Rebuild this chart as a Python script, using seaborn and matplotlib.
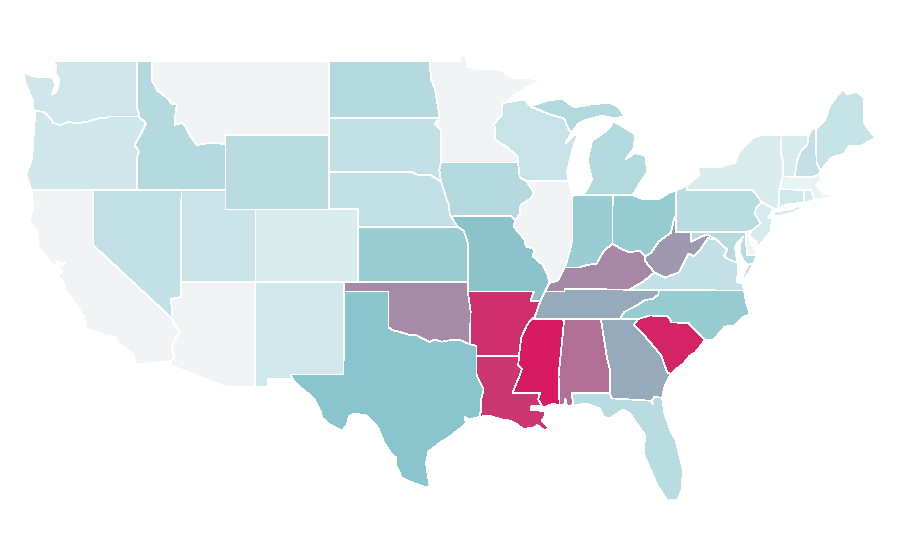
import numpy as np
import pandas as pd
import seaborn as sns
from matplotlib import pyplot as plt

# values, nan = no data (grey)
nan = float("nan")
states = ["WA", "OR", "CA", "NV", "ID", "MT", "WY", "UT", "AZ", "CO", "NM", "ND", "SD", "NE", "KS", "OK", "TX",
          "MN", "IA", "MO", "AR", "LA", "WI", "IL", "MI", "IN", "OH", "KY", "TN", "MS", "AL", "GA", "FL", "SC",
          "NC", "VA", "WV", "PA", "NY", "VT", "NH", "ME", "MA", "CT", "RI", "NJ", "DE", "MD"]
values = [14, 14, nan, 21, 28, nan, 26, 17, nan, 9, 13, 28, 20, 21, 42, 67, 50,
          nan, 28, 51, 94, 92, 18, nan, 29, 42, 43, 68, 58, 100, 75, 58, 26, 97,
          44, 21, 63, 25, 9, 9, 21, 19, 0, 13, 10, 10, nan, 27]

# shared borders, lon/lat
COLUMBIA = [(-124.05, 46.3), (-123.45, 46.27), (-123.2, 46.15), (-122.9, 45.9), (-122.75, 45.65), (-122.3, 45.55),
            (-121.7, 45.7), (-121.2, 45.65), (-120.5, 45.7), (-119.6, 45.92), (-119.0, 45.95), (-118.98, 46.0),
            (-116.92, 46.0)]
SNAKE = [(-116.92, 46.0), (-116.78, 45.85), (-116.54, 45.75), (-116.46, 45.6), (-116.68, 45.25), (-116.85, 44.98),
         (-117.2, 44.45), (-117.03, 44.25), (-116.93, 44.1), (-117.03, 43.83), (-117.03, 42.0)]
ID_MT = [(-116.05, 49), (-116.05, 48.0), (-115.7, 47.45), (-115.0, 47.0), (-114.7, 46.7), (-114.35, 46.65),
         (-114.45, 46.1), (-114.5, 45.55), (-114.0, 45.65), (-113.8, 45.5), (-113.45, 44.95), (-113.0, 44.45),
         (-112.3, 44.55), (-111.5, 44.55), (-111.05, 44.48)]
COLORADO_R = [(-114.63, 35.0), (-114.6, 34.85), (-114.15, 34.27), (-114.45, 34.0), (-114.7, 33.4), (-114.5, 33.0),
              (-114.72, 32.72)]
RED_R = [(-94.48, 33.64), (-95.2, 33.88), (-95.8, 33.86), (-96.4, 33.78), (-96.9, 33.9), (-97.2, 33.75),
         (-97.7, 33.95), (-98.1, 34.13), (-98.6, 34.15), (-99.2, 34.3), (-99.7, 34.4), (-100, 34.56)]
MO_NE = [(-96.45, 42.5), (-96.25, 42.0), (-96.1, 41.6), (-95.9, 41.2), (-95.85, 40.7), (-95.77, 40.58)]
MN_SD = [(-96.56, 45.94), (-96.85, 45.6), (-96.45, 45.3), (-96.45, 43.5)]
MN_ND = [(-97.23, 49), (-97.1, 48.0), (-96.85, 47.5), (-96.6, 46.3), (-96.56, 45.94)]
MN_WI = [(-92.29, 46.66), (-92.29, 46.1), (-92.85, 45.6), (-92.75, 45.3), (-92.8, 44.75), (-91.9, 44.3),
         (-91.25, 43.85), (-91.22, 43.5)]
IA_IL = [(-91.22, 43.5), (-91.1, 42.7), (-90.65, 42.5), (-90.15, 41.9), (-90.35, 41.55), (-91.05, 41.2),
         (-91.1, 40.7), (-91.42, 40.38)]
MO_IL = [(-91.42, 40.38), (-91.5, 40.0), (-90.75, 39.3), (-90.7, 38.95), (-90.15, 38.8), (-90.2, 38.4),
         (-89.55, 37.95), (-89.2, 37.4), (-89.1, 36.97)]
MISS_TN = [(-89.4, 36.5), (-89.7, 36.0), (-90.1, 35.1), (-90.3, 35.0)]
MISS_AR = [(-90.3, 35.0), (-90.6, 34.7), (-91.0, 34.0), (-91.15, 33.02)]
MISS_LA = [(-91.15, 33.02), (-91.2, 32.5), (-90.95, 32.3), (-91.1, 31.95), (-91.6, 31.0), (-89.73, 31.0),
           (-89.85, 30.65), (-89.55, 30.18)]
OHIO_IL = [(-89.1, 36.97), (-88.5, 37.1), (-88.05, 37.8)]
OHIO_IN = [(-88.05, 37.8), (-87.1, 37.8), (-86.5, 37.95), (-85.9, 38.0), (-85.4, 38.7), (-84.82, 39.1)]
OHIO_OH = [(-84.82, 39.1), (-84.2, 38.8), (-83.65, 38.63), (-83.0, 38.72), (-82.6, 38.42)]
OHIO_WV = [(-82.6, 38.42), (-82.2, 38.6), (-81.7, 39.2), (-80.85, 39.7), (-80.65, 40.4), (-80.52, 40.64)]
KY_WV = [(-82.6, 38.42), (-82.6, 38.15), (-81.97, 37.54)]
KY_VA = [(-81.97, 37.54), (-82.7, 37.05), (-83.68, 36.6)]
VA_WV = [(-81.97, 37.54), (-81.25, 37.25), (-80.3, 37.55), (-79.65, 38.57), (-79.3, 38.42), (-78.87, 38.77),
         (-78.35, 39.4), (-77.72, 39.32)]
POTOMAC = [(-77.72, 39.32), (-77.5, 39.1), (-77.05, 38.8), (-77.25, 38.4), (-76.95, 38.25), (-76.3, 38.05)]
MD_WV = [(-77.72, 39.32), (-78.4, 39.6), (-78.9, 39.45), (-79.48, 39.2), (-79.48, 39.72)]
TN_NC = [(-81.68, 36.59), (-81.7, 36.35), (-82.05, 36.1), (-82.6, 36.05), (-83.1, 35.77), (-84.0, 35.4),
         (-84.32, 35.0)]
SAVANNAH = [(-83.1, 35.0), (-83.35, 34.7), (-82.75, 34.2), (-81.95, 33.45), (-81.5, 33.0), (-81.1, 32.1),
            (-80.85, 32.03)]
NC_SC = [(-83.1, 35.0), (-82.3, 35.2), (-81.05, 35.15), (-80.8, 34.82), (-79.67, 34.8), (-78.55, 33.86)]
FL_GA = [(-81.45, 30.72), (-81.95, 30.8), (-82.2, 30.55), (-82.05, 30.36), (-82.2, 30.57), (-84.86, 30.7),
         (-85.0, 31.0)]
AL_GA = [(-85.0, 31.0), (-85.0, 32.3), (-85.18, 32.87), (-85.6, 35.0)]
AL_MS = [(-88.4, 30.35), (-88.47, 31.9), (-88.1, 34.9), (-88.2, 35.0)]
PA_NJ = [(-74.7, 41.36), (-75.1, 41.0), (-75.15, 40.7), (-74.75, 40.2), (-75.4, 39.8)]
NY_PA = [(-74.7, 41.36), (-75.05, 41.75), (-75.35, 42.0), (-79.76, 42.0), (-79.76, 42.27)]
NY_VT = [(-73.35, 45.0), (-73.4, 44.0), (-73.25, 43.6), (-73.27, 42.75)]
VT_NH = [(-71.5, 45.0), (-71.6, 44.5), (-72.05, 44.1), (-72.3, 43.6), (-72.46, 42.73)]
NH_ME = [(-71.03, 45.3), (-70.98, 43.5), (-70.7, 43.07)]
WI_UP = [(-90.4, 46.55), (-89.0, 46.1), (-88.1, 45.9), (-87.8, 45.35), (-87.6, 45.1)]

# state outlines, one list of rings per state
WA = [[(-122.75, 49), (-117.04, 49), (-117.04, 46.42), (-116.92, 46.17)] + COLUMBIA[::-1] +
      [(-124.1, 46.9), (-124.35, 47.3), (-124.65, 47.9), (-124.7, 48.38), (-124.0, 48.17), (-123.2, 48.15),
       (-122.75, 48.1), (-122.6, 47.7), (-122.8, 47.2), (-122.55, 47.3), (-122.4, 47.6), (-122.3, 48.0),
       (-122.6, 48.4), (-122.5, 48.75)]]
OR = [COLUMBIA + SNAKE + [(-124.2, 42), (-124.55, 42.85), (-124.15, 43.8), (-124.05, 45), (-123.95, 46.2)]]
CA = [[(-124.2, 42), (-120, 42), (-120, 39)] + COLORADO_R +
      [(-117.12, 32.53), (-117.3, 33.1), (-118.4, 33.75), (-118.5, 34.03), (-119.2, 34.15), (-120.5, 34.45),
       (-120.65, 35.15), (-121.9, 36.6), (-122.0, 36.95), (-122.5, 37.5), (-122.1, 37.5), (-122.35, 37.95),
       (-121.9, 38.05), (-122.5, 38.1), (-122.5, 37.8), (-122.95, 38.1), (-123.75, 38.95), (-123.8, 39.7),
       (-124.35, 40.3), (-124.1, 41.0)]]
NV = [[(-120, 42), (-114.04, 42), (-114.05, 36.2), (-114.75, 36.1), (-114.63, 35.0), (-120, 39)]]
ID = [[(-117.04, 49)] + ID_MT + [(-111.05, 42)] + SNAKE[::-1] + [(-116.92, 46.17), (-117.04, 46.42)]]
MT = [[(-104.05, 49), (-104.05, 45), (-111.05, 45)] + ID_MT[::-1]]
WY = [[(-111.05, 45), (-104.05, 45), (-104.05, 41), (-111.05, 41)]]
UT = [[(-114.04, 42), (-111.05, 42), (-111.05, 41), (-109.05, 41), (-109.05, 37), (-114.05, 37)]]
AZ = [[(-114.05, 37), (-109.05, 37), (-109.05, 31.33), (-111.07, 31.33), (-114.8, 32.5)] + COLORADO_R[::-1] +
      [(-114.75, 36.1), (-114.05, 36.2)]]
CO = [[(-109.05, 41), (-102.05, 41), (-102.05, 37), (-109.05, 37)]]
NM = [[(-109.05, 37), (-103.0, 37), (-103.05, 32), (-106.62, 32), (-106.53, 31.78), (-108.2, 31.78),
       (-108.2, 31.33), (-109.05, 31.33)]]
ND = [[(-104.05, 49)] + MN_ND + [(-104.05, 45.94)]]
SD = [[(-104.05, 45.94)] + MN_SD + [(-96.55, 43.1), (-96.45, 42.5), (-96.7, 42.6), (-97.2, 42.85), (-97.9, 42.8),
                                    (-98.5, 43), (-104.05, 43)]]
NE = [[(-104.05, 43), (-98.5, 43), (-97.9, 42.8), (-97.2, 42.85), (-96.7, 42.6)] + MO_NE +
      [(-95.3, 40), (-102.05, 40), (-102.05, 41), (-104.05, 41)]]
KS = [[(-102.05, 40), (-95.3, 40), (-94.9, 39.8), (-94.6, 39.1), (-94.62, 37), (-102.05, 37)]]
OK = [[(-103, 37), (-94.62, 37), (-94.62, 36.5), (-94.43, 35.4)] + RED_R + [(-100, 36.5), (-103, 36.5)]]
TX = [[(-103.0, 36.5), (-100, 36.5)] + RED_R[::-1] +
      [(-94.04, 33.55), (-94.04, 33.02), (-94.04, 31.99), (-93.55, 31.2), (-93.75, 30.5), (-93.7, 30.1),
       (-93.85, 29.7), (-94.5, 29.55), (-94.85, 29.7), (-94.75, 29.35), (-95.0, 29.15), (-95.9, 28.6),
       (-96.5, 28.3), (-97.3, 27.8), (-97.45, 27.2), (-97.35, 26.6), (-97.2, 25.96), (-97.35, 25.85),
       (-98.3, 26.1), (-99.1, 26.4), (-99.45, 27.0), (-99.5, 27.5), (-99.85, 27.75), (-100.3, 28.3),
       (-100.7, 29.1), (-101.0, 29.4), (-101.5, 29.77), (-102.35, 29.88), (-102.65, 29.75), (-102.85, 29.25),
       (-103.1, 28.98), (-103.3, 29.0), (-104.0, 29.3), (-104.5, 29.65), (-104.6, 30.0), (-105.0, 30.65),
       (-105.5, 31.0), (-106.2, 31.45), (-106.53, 31.78), (-106.62, 32), (-103.05, 32)]]
MN = [[(-97.23, 49), (-95.15, 49), (-95.15, 49.38), (-94.8, 49.3), (-94.6, 48.7), (-93.8, 48.55), (-93.0, 48.6),
       (-92.4, 48.5), (-91.5, 48.07), (-90.8, 48.1), (-89.6, 48.0), (-90.8, 47.5), (-91.5, 47.15),
       (-92.1, 46.75)] + MN_WI + [(-96.45, 43.5)] + MN_SD[::-1] + MN_ND[::-1]]
IA = [[(-96.45, 43.5)] + IA_IL + [(-91.7, 40.6), (-95.77, 40.58)] + MO_NE[::-1] + [(-96.55, 43.1)]]
MO = [[(-95.77, 40.58), (-91.7, 40.6)] + MO_IL + MISS_TN[:2] +
      [(-90.37, 36.0), (-90.15, 36.5), (-94.62, 36.5), (-94.62, 37), (-94.6, 39.1), (-94.9, 39.8), (-95.3, 40)]]
AR = [[(-94.62, 36.5), (-90.15, 36.5), (-90.37, 36.0), (-89.7, 36.0), (-90.1, 35.1)] + MISS_AR +
      [(-94.04, 33.02), (-94.04, 33.55), (-94.48, 33.64), (-94.43, 35.4)]]
LA = [[(-94.04, 33.02)] + MISS_LA +
      [(-89.9, 30.32), (-90.3, 30.3), (-90.35, 30.08), (-89.9, 30.05), (-89.4, 30.0), (-89.4, 29.75), (-89.6, 29.5),
       (-89.1, 29.1), (-89.4, 28.95), (-89.9, 29.25), (-90.2, 29.1), (-90.9, 29.05), (-91.3, 29.3), (-91.8, 29.5),
       (-92.3, 29.55), (-93.2, 29.77), (-93.85, 29.7), (-93.7, 30.1), (-93.75, 30.5), (-93.55, 31.2),
       (-94.04, 31.99)]]
WI = [[(-92.29, 46.66), (-92.1, 46.75), (-91.2, 46.87), (-90.75, 46.9)] + WI_UP +
      [(-88.0, 44.55), (-87.05, 45.25), (-87.5, 44.3), (-87.9, 43.0), (-87.8, 42.5), (-90.65, 42.5), (-91.1, 42.7),
       (-91.22, 43.5)] + MN_WI[::-1]]
IL = [[(-90.65, 42.5), (-87.8, 42.5), (-87.55, 41.75), (-87.53, 41.7), (-87.53, 39.35), (-87.65, 38.9),
       (-87.95, 38.0)] + OHIO_IL[::-1] + MO_IL[::-1] + IA_IL[::-1][:6]]
MI = [[(-86.82, 41.76), (-84.8, 41.76), (-83.45, 41.73), (-83.1, 42.2), (-82.45, 43.0), (-82.6, 43.9), (-83.3, 44.0),
       (-83.9, 43.7), (-83.35, 44.3), (-83.3, 45.05), (-84.75, 45.75), (-85.0, 45.4), (-85.6, 45.0), (-86.2, 44.7),
       (-86.5, 43.6), (-86.2, 42.6), (-86.5, 42.1)],
      WI_UP + [(-87.1, 45.65), (-86.5, 45.85), (-85.5, 46.05), (-84.7, 45.9), (-84.0, 46.0), (-84.4, 46.5),
               (-85.0, 46.75), (-86.2, 46.67), (-87.4, 46.5), (-88.2, 46.95), (-89.1, 46.9)],
      [(-88.6, 47.15), (-87.9, 47.47), (-88.2, 47.45)]]
IN = [[(-87.53, 41.7), (-87.2, 41.75), (-86.82, 41.76), (-84.8, 41.76)] + OHIO_IN[::-1] +
      [(-87.95, 38.0), (-87.65, 38.9), (-87.53, 39.35)]]
OH = [[(-84.8, 41.76), (-83.45, 41.73), (-82.7, 41.5), (-81.7, 41.5), (-81.0, 41.85), (-80.52, 41.98)] +
      OHIO_WV[::-1] + OHIO_OH[::-1]]
KY = [MISS_TN[:1] + OHIO_IL + OHIO_IN + OHIO_OH + KY_WV + KY_VA + [(-88.07, 36.65), (-88.07, 36.5)]]
TN = [[(-89.4, 36.5), (-88.07, 36.5), (-88.07, 36.65), (-83.68, 36.6)] + TN_NC + [(-85.6, 35), (-88.2, 35)] +
      MISS_TN[::-1]]
MS = [[(-90.3, 35), (-88.2, 35)] + AL_MS[::-1] + [(-88.9, 30.4)] + MISS_LA[::-1] + MISS_AR[::-1]]
AL = [[(-88.2, 35), (-85.6, 35)] + AL_GA[::-1] +
      [(-87.6, 31.0), (-87.45, 30.35), (-87.9, 30.25), (-88.0, 30.7), (-88.1, 30.35)] + AL_MS]
GA = [[(-85.6, 35)] + SAVANNAH + [(-81.2, 31.5), (-81.4, 31.0)] + FL_GA + AL_GA[1:3]]
FL = [[(-87.6, 31), (-85, 31)] + FL_GA[::-1] +
      [(-81.3, 29.9), (-80.9, 29.0), (-80.55, 28.45), (-80.05, 26.9), (-80.1, 25.8), (-80.4, 25.2), (-81.1, 25.15),
       (-81.75, 25.95), (-82.1, 26.6), (-82.7, 27.7), (-82.6, 28.7), (-83.0, 29.15), (-83.65, 29.9), (-84.1, 30.1),
       (-85.0, 29.6), (-85.4, 29.7), (-85.7, 30.15), (-86.5, 30.4), (-87.45, 30.35)]]
SC = [NC_SC + [(-79.2, 33.2), (-79.6, 33.0), (-80.0, 32.6), (-80.5, 32.3)] + SAVANNAH[::-1]]
NC = [[(-84.32, 35.0)] + NC_SC +
      [(-77.95, 33.9), (-77.2, 34.6), (-76.55, 34.65), (-76.0, 35.1), (-75.5, 35.25), (-75.75, 35.9), (-75.9, 36.55),
       (-81.68, 36.59)] + TN_NC[1:]]
VA = [[(-83.68, 36.6), (-81.68, 36.59), (-75.9, 36.55), (-76.0, 36.95), (-76.4, 37.0), (-76.3, 37.55)] +
      POTOMAC[::-1] + VA_WV[::-1] + KY_VA[1:],
      [(-75.25, 38.03), (-75.65, 37.95), (-75.98, 37.3), (-75.95, 37.12), (-75.6, 37.5)]]
WV = [[(-80.52, 40.64), (-80.52, 39.72)] + MD_WV[::-1] + VA_WV[::-1] + KY_WV[::-1] + OHIO_WV]
PA = [[(-80.52, 41.98), (-79.76, 42.27)] + NY_PA[::-1] + PA_NJ + [(-75.79, 39.72), (-80.52, 39.72)]]
NY = [[(-79.76, 42.27), (-78.9, 42.85), (-79.05, 43.27), (-77.5, 43.27), (-76.5, 43.5), (-76.2, 44.1), (-75.3, 44.85),
       (-74.7, 45.0)] + NY_VT + [(-73.5, 42.05), (-73.5, 41.3), (-73.65, 41.0), (-73.9, 41.0)] + NY_PA,
      [(-74.0, 40.6), (-73.75, 40.85), (-72.6, 40.98), (-72.3, 41.15), (-71.9, 41.05), (-72.5, 40.8), (-73.5, 40.6)]]
VT = [NY_VT + VT_NH[::-1]]
NH = [[(-71.5, 45.0), (-71.3, 45.3)] + NH_ME + [(-70.82, 42.87), (-71.3, 42.7)] + VT_NH[::-1]]
ME = [[(-71.03, 45.3), (-70.4, 45.8), (-70.25, 46.2), (-70.0, 46.7), (-69.23, 47.46), (-68.9, 47.2), (-68.3, 47.35),
       (-67.8, 47.07), (-67.8, 45.7), (-67.45, 45.3), (-67.0, 44.85), (-68.0, 44.4), (-68.8, 44.4), (-69.1, 44.0),
       (-70.0, 43.75)] + NH_ME[::-1]]
MA = [[(-73.5, 42.05), (-73.27, 42.75), (-72.46, 42.73), (-71.3, 42.7), (-70.82, 42.87), (-70.6, 42.65), (-71.0, 42.3),
       (-70.55, 41.8), (-70.0, 41.78), (-70.25, 42.05), (-69.95, 41.9), (-70.0, 41.65), (-70.6, 41.55), (-71.12, 41.5),
       (-71.38, 42.02), (-71.8, 42.02)]]
CT = [[(-73.5, 42.05), (-71.8, 42.02), (-71.85, 41.32), (-72.9, 41.25), (-73.65, 41.0), (-73.5, 41.3)]]
RI = [[(-71.8, 42.02), (-71.38, 42.02), (-71.12, 41.5), (-71.5, 41.37), (-71.85, 41.32)]]
NJ = [PA_NJ + [(-75.55, 39.5), (-75.05, 39.2), (-74.9, 38.95), (-74.1, 39.75), (-74.0, 40.45), (-74.25, 40.5),
               (-73.9, 41.0)]]
DE = [[(-75.4, 39.8), (-75.79, 39.72), (-75.7, 38.46), (-75.05, 38.45), (-75.1, 38.8), (-75.4, 39.05), (-75.55, 39.5)]]
MD = [[(-79.48, 39.72), (-75.79, 39.72), (-75.7, 38.46), (-75.05, 38.45), (-75.25, 38.03), (-75.65, 37.95),
       (-75.95, 38.2), (-76.2, 38.6), (-76.15, 39.1), (-75.95, 39.5), (-76.3, 39.2), (-76.5, 38.9), (-76.4, 38.3)] +
      POTOMAC[::-1] + MD_WV]

outlines = [WA, OR, CA, NV, ID, MT, WY, UT, AZ, CO, NM, ND, SD, NE, KS, OK, TX,
            MN, IA, MO, AR, LA, WI, IL, MI, IN, OH, KY, TN, MS, AL, GA, FL, SC,
            NC, VA, WV, PA, NY, VT, NH, ME, MA, CT, RI, NJ, DE, MD]

df = pd.DataFrame({"state": states, "value": values})
cmap = sns.blend_palette(["#e9f4f6", "#8ac5cc", "#d81b60"], as_cmap=True)
no_data = "#f2f3f5"

sns.set_theme(style="white")
fig, ax = plt.subplots(figsize=(9, 5.6), dpi=100)
fig.subplots_adjust(left=0, right=1, top=1, bottom=0)

for rings, value in zip(outlines, df["value"]):
    color = no_data if np.isnan(value) else cmap(value / 100)
    for ring in rings:
        lon, lat = zip(*ring)
        ax.fill(lon, lat, facecolor=color, edgecolor="white", linewidth=0.55, antialiased=False)

ax.set_xlim(-126.338, -65.321)
ax.set_ylim(21.926, 52.328)
ax.axis("off")
fig.savefig("out.png", dpi=100)
